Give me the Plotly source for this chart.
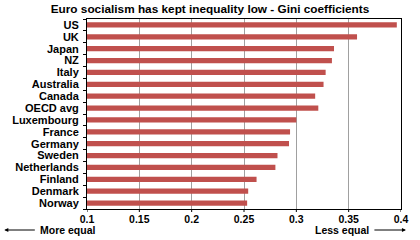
import plotly.graph_objects as go

countries = ["US", "UK", "Japan", "NZ", "Italy", "Australia", "Canada", "OECD avg",
             "Luxembourg", "France", "Germany", "Sweden", "Netherlands", "Finland",
             "Denmark", "Norway"]
gini = [0.396, 0.358, 0.336, 0.334, 0.328, 0.326, 0.318, 0.321,
        0.300, 0.294, 0.293, 0.282, 0.280, 0.262, 0.254, 0.253]
x_ticks = [0.1, 0.15, 0.2, 0.25, 0.3, 0.35, 0.4]
x_tick_labels = ["0.1", "0.15", "0.2", "0.25", "0.3", "0.35", "0.4"]

FONT = "Liberation Sans, Arial, sans-serif"
W, H = 420, 240
L, R, T, B = 87, 14, 19, 31
pw, ph = W - L - R, H - T - B

def px(xpix):
    return (xpix - L) / pw

def py(ypix):
    return (H - B - ypix) / ph

fig = go.Figure(go.Bar(
    x=gini, y=countries, orientation="h",
    marker=dict(color="#C0504D", line=dict(width=0)),
    width=0.45,
))

fig.update_layout(
    width=W, height=H,
    margin=dict(l=L, r=R, t=T, b=B),
    paper_bgcolor="white", plot_bgcolor="white",
    showlegend=False,
    font=dict(family=FONT, size=11, color="#000000"),
    title=dict(text="<b>Euro socialism has kept inequality low - Gini coefficients</b>",
               x=0.5, xref="container", xanchor="center",
               y=1 - 9 / H, yref="container", yanchor="middle",
               font=dict(family=FONT, size=11.8, color="#000000")),
)

fig.update_xaxes(
    range=[0.1, 0.4], tickvals=x_ticks,
    ticktext=["<b>%s</b>" % t for t in x_tick_labels],
    showgrid=True, gridcolor="#A0A0A0", gridwidth=1,
    showline=True, linecolor="#000000", linewidth=1, mirror=True,
    ticks="",
    tickfont=dict(family=FONT, size=10.5, color="#000000"),
    zeroline=False, fixedrange=True,
)
fig.update_yaxes(
    autorange="reversed",
    tickvals=countries,
    ticktext=["<b>%s</b>" % c for c in countries],
    showline=True, linecolor="#000000", linewidth=1, mirror=True,
    ticks="outside", ticklen=3, tickcolor="#000000", tickson="boundaries",
    showgrid=False,
    tickfont=dict(family=FONT, size=11, color="#000000"),
    ticklabelstandoff=5,
)

# outside tick marks on the value axis (positioned through the x scale)
for t in x_ticks:
    fig.add_shape(type="line", xref="x", yref="paper", x0=t, x1=t,
                  y0=0, y1=-3 / ph, line=dict(color="#000000", width=1))

ya = py(230)
fig.add_annotation(xref="paper", yref="paper", x=px(3), y=ya,
                   ax=32, ay=0, axref="pixel", ayref="pixel",
                   text="", showarrow=True, arrowhead=2, arrowsize=0.8,
                   arrowwidth=1, arrowcolor="#000000")
fig.add_annotation(xref="paper", yref="paper", x=px(37), y=ya,
                   xanchor="left", yanchor="middle", showarrow=False,
                   text="<b>More equal</b>",
                   font=dict(family=FONT, size=10.5, color="#000000"))
fig.add_annotation(xref="paper", yref="paper", x=px(376), y=ya,
                   xanchor="right", yanchor="middle", showarrow=False,
                   text="<b>Less equal</b>",
                   font=dict(family=FONT, size=10.5, color="#000000"))
fig.add_annotation(xref="paper", yref="paper", x=px(411), y=ya,
                   ax=-33, ay=0, axref="pixel", ayref="pixel",
                   text="", showarrow=True, arrowhead=2, arrowsize=0.8,
                   arrowwidth=1, arrowcolor="#000000")

fig.write_html("out.html", config={"displayModeBar": False})
